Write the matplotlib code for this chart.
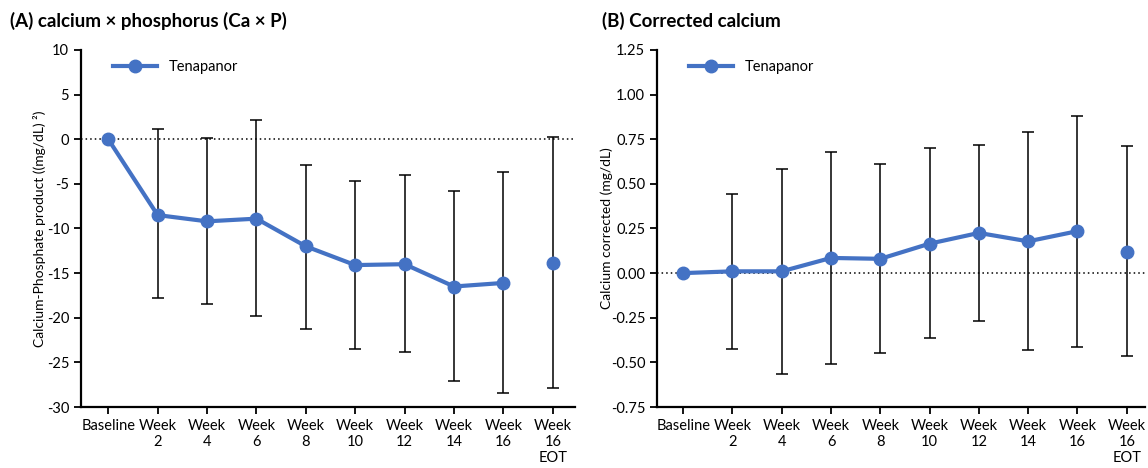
import matplotlib.pyplot as plt

plt.rcParams['font.family'] = ['Lato', 'DejaVu Sans']

labels = ['Baseline', 'Week\n2', 'Week\n4', 'Week\n6', 'Week\n8', 'Week\n10',
          'Week\n12', 'Week\n14', 'Week\n16', 'Week\n16\nEOT']

# (A) Ca x P change from baseline
cap_mean = [0, -8.5, -9.2, -8.9, -12.0, -14.1, -14.0, -16.5, -16.1, -13.9]
cap_upper = [0, 1.1, 0.1, 2.2, -2.85, -4.7, -4.05, -5.75, -3.7, 0.2]
cap_lower = [0, -17.75, -18.5, -19.85, -21.3, -23.5, -23.85, -27.1, -28.45, -27.9]

# (B) corrected calcium change from baseline
ca_mean = [0, 0.01, 0.01, 0.085, 0.08, 0.165, 0.225, 0.178, 0.235, 0.12]
ca_upper = [0, 0.445, 0.585, 0.68, 0.61, 0.70, 0.72, 0.79, 0.88, 0.71]
ca_lower = [0, -0.425, -0.565, -0.51, -0.45, -0.365, -0.27, -0.43, -0.415, -0.465]

blue = '#4472C4'

fig = plt.figure(figsize=(11.48, 4.68), dpi=100)
axA = fig.add_axes([0.0706, 0.1303, 0.4303, 0.763])
axB = fig.add_axes([0.5723, 0.1303, 0.4251, 0.763])


def draw(ax, mean, upper, lower, ylim, yticks, ylabel, fmt, xlim, ylabel_x):
    x = list(range(len(mean)))
    yerr = [[m - l for m, l in zip(mean, lower)], [u - m for m, u in zip(mean, upper)]]
    ax.errorbar(x[1:], mean[1:], yerr=[yerr[0][1:], yerr[1][1:]], fmt='none',
                ecolor='black', elinewidth=1.1, capsize=4.5, capthick=1.1, zorder=2)
    ax.axhline(0, color='black', linestyle=(0, (1, 2)), linewidth=1.1, zorder=1)
    ax.plot(x[:-1], mean[:-1], color=blue, linewidth=3, marker='o', markersize=9,
            label='Tenapanor', zorder=3)
    ax.plot(x[-1:], mean[-1:], color=blue, linestyle='none', marker='o', markersize=9, zorder=3)
    ax.set_xlim(*xlim)
    ax.set_ylim(*ylim)
    ax.set_yticks(yticks)
    ax.set_yticklabels([fmt.format(v) for v in yticks])
    ax.set_xticks(x)
    ax.set_xticklabels(labels, linespacing=1.2, va='top')
    ax.set_ylabel(ylabel, fontsize=10)
    ax.yaxis.set_label_coords(ylabel_x, 0.5)
    for s in ['top', 'right']:
        ax.spines[s].set_visible(False)
    for s in ['left', 'bottom']:
        ax.spines[s].set_linewidth(1.6)
    ax.tick_params(direction='out', length=5, width=1.3, labelsize=10.5)
    ax.legend(loc='upper left', bbox_to_anchor=(0.045, 1.0), frameon=False, fontsize=10.5,
              handlelength=3, borderaxespad=0.3)


draw(axA, cap_mean, cap_upper, cap_lower, (-30, 10), list(range(-30, 11, 5)),
     'Calcium-Phosphate product ((mg/dL) ²)', '{:g}', (-0.55, 9.45), -0.07)
draw(axB, ca_mean, ca_upper, ca_lower, (-0.75, 1.25),
     [-0.75, -0.5, -0.25, 0, 0.25, 0.5, 0.75, 1.0, 1.25],
     'Calcium corrected (mg/dL)', '{:.2f}', (-0.53, 9.37), -0.09)

fig.text(0.009, 0.955, '(A) calcium × phosphorus (Ca × P)', fontsize=13.5, fontweight='bold', va='center')
fig.text(0.524, 0.955, '(B) Corrected calcium', fontsize=13.5, fontweight='bold', va='center')

fig.savefig('out.png', dpi=100)
